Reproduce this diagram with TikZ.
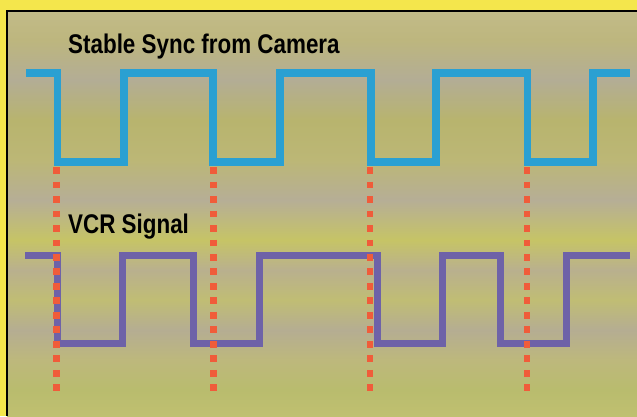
\documentclass[tikz,border=0pt]{standalone}
\usepackage{fontspec}
\newfontfamily\labelfont[FakeStretch=0.83]{Liberation Sans}
\definecolor{yel}{HTML}{F4E64C}
\definecolor{syncblue}{HTML}{2AA0D2}
\definecolor{vcrpurple}{HTML}{6E62A8}
\definecolor{dotred}{HTML}{F05C3A}
\definecolor{bgA}{HTML}{C2BB88}
\definecolor{bgB}{HTML}{BDB67E}
\definecolor{bgC}{HTML}{B3AD95}
\definecolor{bgD}{HTML}{B8B46E}
\definecolor{bgE}{HTML}{BCB776}
\definecolor{bgF}{HTML}{B6AE96}
\definecolor{bgG}{HTML}{C6C466}
\definecolor{bgH}{HTML}{B9B08E}
\definecolor{bgI}{HTML}{C0BD74}
\definecolor{bgJ}{HTML}{B5AD92}
\definecolor{bgK}{HTML}{BDB87C}
\definecolor{bgL}{HTML}{B9BC6E}
\definecolor{bgM}{HTML}{C0C070}
\tikzset{
  sync/.style={draw=syncblue, line width=7.2pt, line join=miter},
  vcr/.style={draw=vcrpurple, line width=7pt, line join=miter},
  marker/.style={draw=dotred, line width=6.5pt, dash pattern=on 6.8pt off 7.68pt},
  lbl/.style={anchor=base west, inner sep=0pt, font=\labelfont\bfseries\fontsize{27}{30}\selectfont, text=black}
}
\begin{document}
\begin{tikzpicture}[x=1pt,y=-1pt]
\useasboundingbox (0,0) rectangle (637,416);
\fill[yel] (0,0) rectangle (637,416);
% background bands
\foreach \ya/\ca/\yb/\cb in {11/bgA/40/bgB, 40/bgB/80/bgC, 80/bgC/120/bgD, 120/bgD/160/bgE, 160/bgE/200/bgF, 200/bgF/240/bgG, 240/bgG/270/bgH, 270/bgH/300/bgI, 300/bgI/330/bgJ, 330/bgJ/360/bgK, 360/bgK/390/bgL, 390/bgL/416/bgM}
  \shade[top color=\ca, bottom color=\cb] (7,\ya) rectangle (637,\yb);
\draw[black, line width=2pt] (7,416) -- (7,11) -- (637,11);
% signals
\draw[sync] (26,73) -- (57.5,73) -- (57.5,162) -- (124,162) -- (124,73) -- (213,73) -- (213,162) -- (280,162) -- (280,73) -- (371,73) -- (371,162) -- (436,162) -- (436,73) -- (527.5,73) -- (527.5,162) -- (593,162) -- (593,73) -- (630,73);
\draw[vcr] (25,255) -- (57.5,255) -- (57.5,343.5) -- (122.5,343.5) -- (122.5,255) -- (193.5,255) -- (193.5,343.5) -- (259.5,343.5) -- (259.5,255) -- (377.5,255) -- (377.5,343.5) -- (442,343.5) -- (442,255) -- (500.5,255) -- (500.5,343.5) -- (566.5,343.5) -- (566.5,255) -- (630,255);
% markers
\foreach \n/\x in {1/56.7, 2/213.3, 3/370, 4/527} {
  \coordinate (t\n) at (\x,167.1);
  \coordinate (b\n) at (\x,391.1);
  \draw[marker] (t\n) -- (b\n);
}
\node[lbl] (synclabel) at (68,53.3) {Stable Sync from Camera};
\node[lbl] (vcrlabel) at (68,233.3) {VCR Signal};
\end{tikzpicture}
\end{document}
